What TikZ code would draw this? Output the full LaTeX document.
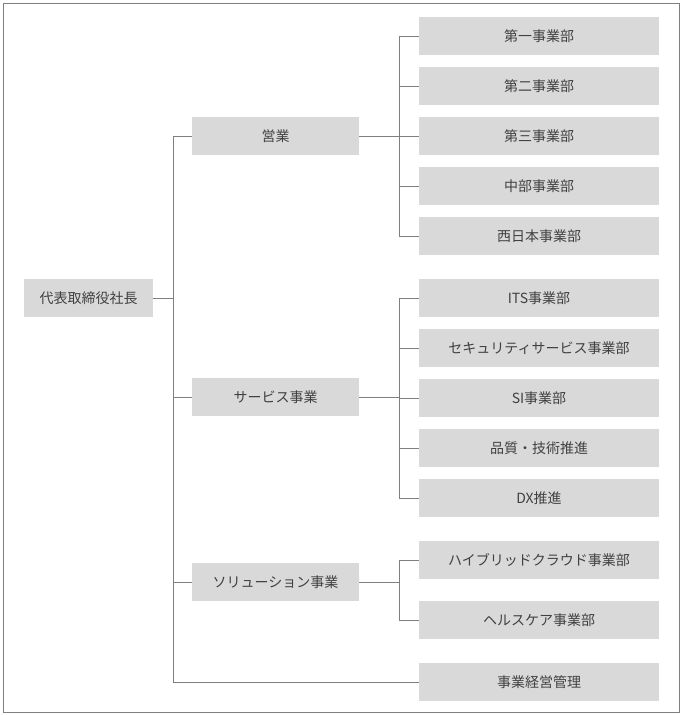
\documentclass[tikz,border=0pt]{standalone}
\usepackage{fontspec}
\setmainfont{Noto Sans CJK JP}
\usetikzlibrary{positioning}
\definecolor{boxgray}{HTML}{D9D9D9}
\definecolor{linegray}{HTML}{7F7F7F}
\definecolor{textgray}{HTML}{404040}

\begin{document}
\begin{tikzpicture}[x=0.75pt, y=-0.75pt, semithick,
            unit/.style ={fill=boxgray, text=textgray, font=\fontsize{10.5}{12}\selectfont,
            minimum height=28.5pt, inner sep=0pt},
            ceo/.style ={unit, minimum width=96.75pt},
            dept/.style ={unit, minimum width=125.25pt},
            sub/.style ={unit, minimum width=180pt},
            link/.style ={draw=linegray, line width=0.6pt}]

        \useasboundingbox (0,0) rectangle (682,715);
        \draw[draw=linegray, line width=0.6pt] (3,3) rectangle (679,712);

        \node[ceo] (P) at (88.5, 298) {代表取締役社長};

        \node[dept] (E) at (275.5, 136) {営業};
        \node[dept] (S) at (275.5, 397) {サービス事業};
        \node[dept] (L) at (275.5, 582) {ソリューション事業};

        \node[sub] (E1) at (539, 36) {第一事業部};
        \node[sub] (E2) at (539, 86) {第二事業部};
        \node[sub] (E3) at (539, 136) {第三事業部};
        \node[sub] (E4) at (539, 186) {中部事業部};
        \node[sub] (E5) at (539, 236) {西日本事業部};

        \node[sub] (S1) at (539, 298) {ITS事業部};
        \node[sub] (S2) at (539, 348) {セキュリティサービス事業部};
        \node[sub] (S3) at (539, 398) {SI事業部};
        \node[sub] (S4) at (539, 448) {品質・技術推進};
        \node[sub] (S5) at (539, 498) {DX推進};

        \node[sub] (L1) at (539, 560) {ハイブリッドクラウド事業部};
        \node[sub] (L2) at (539, 620) {ヘルスケア事業部};

        \node[sub] (M) at (539, 682) {事業経営管理};

        %%-------------------- lines --------------------
        \coordinate (pj) at (173, 298);
        \draw[link] (P.east) -- (pj);
        \draw[link] (pj |- E.west) -- (pj |- M.west);
        \foreach \n in {E, S, L, M}
            \draw[link] (pj |- \n.west) -- (\n.west);

        \coordinate (ej) at (399, 136);
        \draw[link] (E.east) -- (ej);
        \draw[link] (ej |- E1.west) -- (ej |- E5.west);
        \foreach \n in {E1, E2, E3, E4, E5}
            \draw[link] (ej |- \n.west) -- (\n.west);

        \coordinate (sj) at (399, 397);
        \draw[link] (S.east) -- (sj);
        \draw[link] (sj |- S1.west) -- (sj |- S5.west);
        \foreach \n in {S1, S2, S3, S4, S5}
            \draw[link] (sj |- \n.west) -- (\n.west);

        \coordinate (lj) at (399, 582);
        \draw[link] (L.east) -- (lj);
        \draw[link] (lj |- L1.west) -- (lj |- L2.west);
        \foreach \n in {L1, L2}
            \draw[link] (lj |- \n.west) -- (\n.west);

\end{tikzpicture}
\end{document}
